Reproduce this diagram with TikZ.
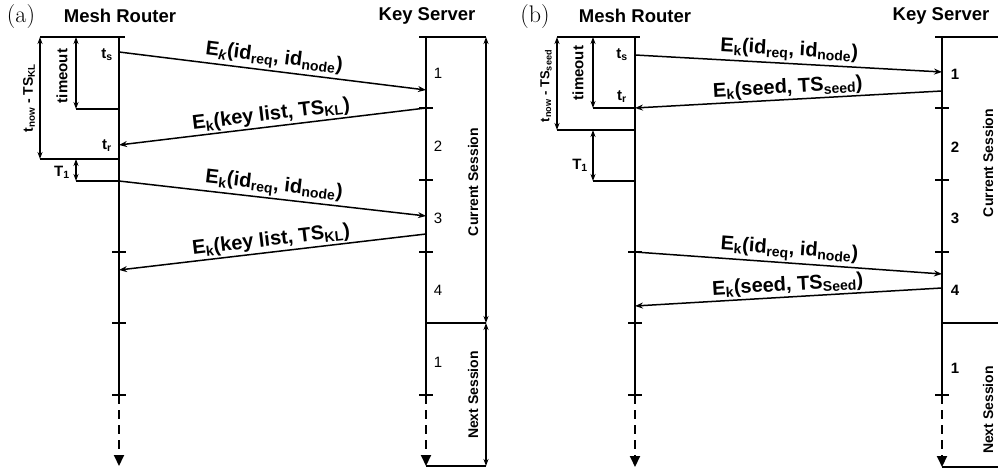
\documentclass[tikz,border=0pt]{standalone}
\usepackage{fontspec}
\newfontfamily\arial{Liberation Sans}
\usetikzlibrary{arrows.meta}
\tikzset{
  lifeline/.style={line width=2pt},
  dashline/.style={line width=2pt, dash pattern=on 9pt off 6pt, -{Triangle[length=11pt,width=10pt]}},
  tickline/.style={line width=1.6pt},
  msg/.style={line width=1.5pt, -{Stealth[length=8pt,width=6pt]}},
  span/.style={line width=1.5pt, {Stealth[length=7pt,width=5pt]}-{Stealth[length=7pt,width=5pt]}},
  msglabel/.style={font=\arial\bfseries\fontsize{20}{20}\selectfont, sloped, above, inner sep=1.5pt},
  title/.style={font=\arial\bfseries\fontsize{18.5}{18.5}\selectfont, inner sep=0pt},
  panel/.style={font=\fontsize{24}{24}\selectfont, inner sep=0pt},
  small/.style={font=\arial\bfseries\fontsize{15}{15}\selectfont, inner sep=0pt},
  num/.style={font=\arial\fontsize{15}{15}\selectfont, inner sep=0pt},
  numb/.style={font=\arial\bfseries\fontsize{15}{15}\selectfont, inner sep=0pt},
  sess/.style={font=\arial\bfseries\fontsize{14}{14}\selectfont, inner sep=0pt, rotate=90},
}
\begin{document}
\begin{tikzpicture}[x=1pt,y=-1pt]
\useasboundingbox (0,0) rectangle (998,470);
% ================= panel (a) =================
\node[panel] (pa) at (21,17) {(a)};
\node[title] (mra) at (120,16) {Mesh Router};
\node[title] (ksa) at (427,16) {Key Server};
% mesh router lifeline
\coordinate (aM0) at (119,37);
\coordinate (aM1) at (119,395);
\coordinate (aM2) at (119,466);
\draw[lifeline] (aM0) -- (aM1);
\draw[dashline] (aM1) -- (aM2);
% key server lifeline
\coordinate (aK0) at (426,37);
\coordinate (aK1) at (426,395);
\coordinate (aK2) at (426,466);
\draw[lifeline] (aK0) -- (aK1);
\draw[dashline] (aK1) -- (aK2);
% mesh router brackets
\coordinate (aTopL) at (40,37);
\coordinate (aTopR) at (125,37);
\draw[tickline] (aTopL) -- (aTopR);
\coordinate (aTo0) at (76,37);
\coordinate (aTo1) at (76,109);
\coordinate (aTo1r) at (119,109);
\draw[tickline] (aTo1) -- (aTo1r);
\draw[span] (aTo0) -- (aTo1);
\coordinate (aNow1) at (40,159);
\coordinate (aNow1r) at (119,159);
\draw[tickline] (aNow1) -- (aNow1r);
\draw[span] (aTopL) -- (aNow1);
\coordinate (aT0) at (76,159);
\coordinate (aT1) at (76,181);
\coordinate (aT1r) at (119,181);
\draw[tickline] (aT1) -- (aT1r);
\draw[span] (aT0) -- (aT1);
\foreach \y in {252,323,395} \draw[tickline] (112,\y) -- (126,\y);
\node[small, rotate=90] (atimeout) at (62,76) {timeout};
\node[small, rotate=90, font=\arial\bfseries\fontsize{14}{14}\selectfont] (anow) at (29,98) {t\textsubscript{now} - TS\textsubscript{KL}};
\node[small] (aT1lab) at (62,172) {T\textsubscript{1}};
\node[small] (ats) at (107,55) {t\textsubscript{s}};
\node[small] (atr) at (107,146) {t\textsubscript{r}};
% key server ticks and sessions
\foreach \y in {108,180,252,395} \draw[tickline] (419,\y) -- (433,\y);
\coordinate (aS0) at (486,37);
\coordinate (aS1) at (486,323);
\coordinate (aS2) at (486,466);
\draw[tickline] (419,37) -- (aS0);
\draw[tickline] (aK1 |- aS1) -- (aS1);
\draw[tickline] (aK2) -- (aS2);
\draw[span] (aS0) -- (aS1);
\draw[span] (aS1) -- (aS2);
\node[sess] (acur) at (473,182) {Current Session};
\node[sess] (anext) at (473,395) {Next Session};
\node[num] (an1) at (438,73) {1};
\node[num] (an2) at (438,146) {2};
\node[num] (an3) at (438,218) {3};
\node[num] (an4) at (438,290) {4};
\node[num] (an5) at (438,362) {1};
% messages
\coordinate (am1s) at (119,52);  \coordinate (am1e) at (426,90);
\coordinate (am2s) at (426,108); \coordinate (am2e) at (119,145);
\coordinate (am3s) at (119,181); \coordinate (am3e) at (426,216);
\coordinate (am4s) at (426,234); \coordinate (am4e) at (119,270);
\draw[msg] (am1s) -- node[msglabel] (al1) {E\textsubscript{\itshape k}(id\textsubscript{req}, id\textsubscript{node})} (am1e);
\draw[msg] (am2s) -- node[msglabel] (al2) {E\textsubscript{k}(key list, TS\textsubscript{KL})} (am2e);
\draw[msg] (am3s) -- node[msglabel] (al3) {E\textsubscript{k}(id\textsubscript{req}, id\textsubscript{node})} (am3e);
\draw[msg] (am4s) -- node[msglabel] (al4) {E\textsubscript{k}(key list, TS\textsubscript{KL})} (am4e);
% ================= panel (b) =================
\node[panel] (pb) at (535,17) {(b)};
\node[title] (mrb) at (635,16) {Mesh Router};
\node[title] (ksb) at (941,16) {Key Server};
\coordinate (bM0) at (635,37);
\coordinate (bM1) at (635,395);
\coordinate (bM2) at (635,467);
\draw[lifeline] (bM0) -- (bM1);
\draw[dashline] (bM1) -- (bM2);
\coordinate (bK0) at (942,37);
\coordinate (bK1) at (942,395);
\coordinate (bK2) at (942,467);
\draw[lifeline] (bK0) -- (bK1);
\draw[dashline] (bK1) -- (bK2);
\coordinate (bTopL) at (557,37);
\coordinate (bTopR) at (640,37);
\draw[tickline] (bTopL) -- (bTopR);
\coordinate (bTo0) at (593,37);
\coordinate (bTo1) at (593,108);
\coordinate (bTo1r) at (635,108);
\draw[tickline] (bTo1) -- (bTo1r);
\draw[span] (bTo0) -- (bTo1);
\coordinate (bNow1) at (557,130);
\coordinate (bNow1r) at (635,130);
\draw[tickline] (bNow1) -- (bNow1r);
\draw[span] (bTopL) -- (bNow1);
\coordinate (bT0) at (593,130);
\coordinate (bT1) at (593,181);
\coordinate (bT1r) at (635,181);
\draw[tickline] (bT1) -- (bT1r);
\draw[span] (bT0) -- (bT1);
\foreach \y in {252,323,395} \draw[tickline] (628,\y) -- (642,\y);
\node[small, rotate=90] (btimeout) at (578,73) {timeout};
\node[small, rotate=90, font=\arial\bfseries\fontsize{13}{13}\selectfont] (bnow) at (546,86) {t\textsubscript{now} - TS\textsubscript{seed}};
\node[small] (bT1lab) at (580,165) {T\textsubscript{1}};
\node[small] (bts) at (622,55) {t\textsubscript{s}};
\node[small] (btr) at (622,97) {t\textsubscript{r}};
\foreach \y in {108,180,252,395} \draw[tickline] (935,\y) -- (949,\y);
\coordinate (bS0) at (998,37);
\coordinate (bS1) at (998,323);
\coordinate (bS2) at (998,467);
\draw[tickline] (935,37) -- (bS0);
\draw[tickline] (bK1 |- bS1) -- (bS1);
\draw[tickline] (bK2) -- (bS2);
\node[sess] (bcur) at (988,163) {Current Session};
\node[sess] (bnext) at (988,410) {Next Session};
\node[numb] (bn1) at (955,74) {1};
\node[numb] (bn2) at (955,147) {2};
\node[numb] (bn3) at (955,218) {3};
\node[numb] (bn4) at (955,290) {4};
\node[numb] (bn5) at (955,368) {1};
\coordinate (bm1s) at (635,55);  \coordinate (bm1e) at (942,72);
\coordinate (bm2s) at (942,91);  \coordinate (bm2e) at (635,108);
\coordinate (bm3s) at (635,252); \coordinate (bm3e) at (942,274);
\coordinate (bm4s) at (942,288); \coordinate (bm4e) at (635,306);
\draw[msg] (bm1s) -- node[msglabel] (bl1) {E\textsubscript{k}(id\textsubscript{req}, id\textsubscript{node})} (bm1e);
\draw[msg] (bm2s) -- node[msglabel] (bl2) {E\textsubscript{k}(seed, TS\textsubscript{seed})} (bm2e);
\draw[msg] (bm3s) -- node[msglabel] (bl3) {E\textsubscript{k}(id\textsubscript{req}, id\textsubscript{node})} (bm3e);
\draw[msg] (bm4s) -- node[msglabel] (bl4) {E\textsubscript{k}(seed, TS\textsubscript{Seed})} (bm4e);
\end{tikzpicture}
\end{document}
